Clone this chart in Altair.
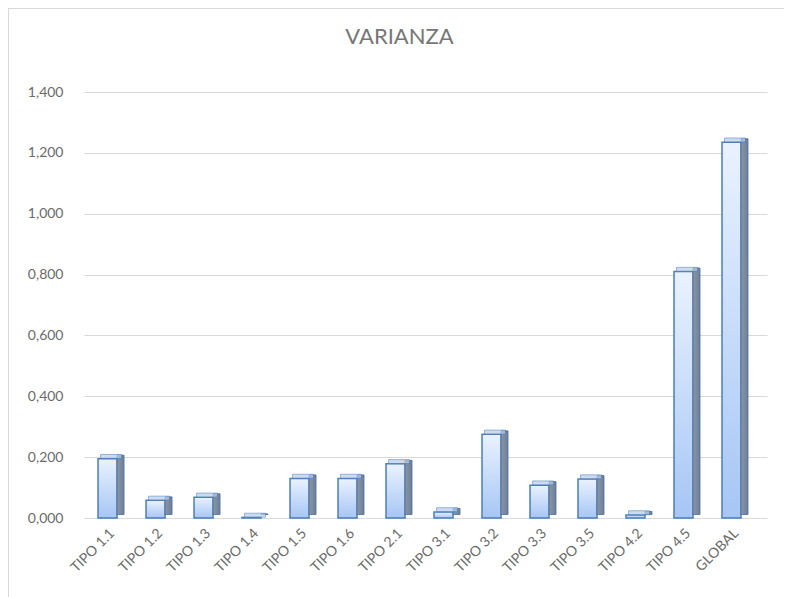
import altair as alt
import pandas as pd

categories = ["TIPO 1.1", "TIPO 1.2", "TIPO 1.3", "TIPO 1.4", "TIPO 1.5", "TIPO 1.6", "TIPO 2.1",
              "TIPO 3.1", "TIPO 3.2", "TIPO 3.3", "TIPO 3.5", "TIPO 4.2", "TIPO 4.5", "GLOBAL"]
values = [0.195, 0.058, 0.068, 0.002, 0.130, 0.130, 0.178,
          0.020, 0.275, 0.108, 0.128, 0.010, 0.810, 1.235]
y_ticks = [0.0, 0.2, 0.4, 0.6, 0.8, 1.0, 1.2, 1.4]

df = pd.DataFrame({"cat": categories, "val": values})

FONT = "Lato"
GRAY = "#6b6b6b"
W, H = 683, 426


def xs(shift):
    return alt.Scale(domain=categories, paddingInner=0.6, paddingOuter=0.415, align=0.35,
                     range=[shift, W + shift])


def ys(shift):
    return alt.Scale(domain=[0, 1.4], nice=False, range=[H - shift, -shift])


x_main = alt.X("cat:N", scale=xs(0), sort=None, title=None,
               axis=alt.Axis(labelAngle=-45, labelAlign="right", labelBaseline="top",
                             labelFont=FONT, labelFontSize=14, labelColor=GRAY,
                             domain=False, ticks=False, labelPadding=8))
y_main = alt.Y("val:Q", scale=ys(0), title=None,
               axis=alt.Axis(values=y_ticks, labelExpr="replace(format(datum.value, '.3f'), '.', ',')",
                             labelFont=FONT, labelFontSize=14, labelColor=GRAY,
                             domain=False, ticks=False, labelPadding=21,
                             grid=True, gridColor="#d9d9d9", gridWidth=1))

base = alt.Chart(df)

# side face (depth)
side = base.mark_bar(
    width=7, stroke="#4a6f9e", strokeWidth=0.8,
    color=alt.Gradient(gradient="linear", x1=0, x2=1, y1=0, y2=0,
                       stops=[alt.GradientStop(color="#8b95a6", offset=0),
                              alt.GradientStop(color="#6f7f99", offset=1)])
).encode(
    x=alt.X("cat:N", scale=xs(13), sort=None, axis=None),
    y=alt.Y("val:Q", scale=ys(3.5), axis=None),
    y2=alt.datum(0),
)

# top face
top = base.mark_tick(
    orient="horizontal", size=21, thickness=4, color="#b9cdea", stroke="#4a7ebb", strokeWidth=0.8
).encode(
    x=alt.X("cat:N", scale=xs(3.5), sort=None, axis=None),
    y=alt.Y("val:Q", scale=ys(2.2), axis=None),
)

# front face
front = base.mark_bar(
    width=19, stroke="#4a7ebb", strokeWidth=1.5,
    color=alt.Gradient(gradient="linear", x1=0, x2=0, y1=0, y2=1,
                       stops=[alt.GradientStop(color="#eaf2fe", offset=0),
                              alt.GradientStop(color="#a6c6f5", offset=1)])
).encode(x=x_main, y=y_main)

border = alt.Chart(df).mark_rule(color="#d9d9d9", strokeWidth=1.5, clip=False).encode(
    x=alt.value(-76), x2=alt.value(-76), y=alt.value(-84), y2=alt.value(520))
border_top = alt.Chart(df).mark_rule(color="#d9d9d9", strokeWidth=1.5, clip=False).encode(
    x=alt.value(-76), x2=alt.value(720), y=alt.value(-84), y2=alt.value(-84))

chart = alt.layer(front, side, top, border, border_top).resolve_scale(
    x="independent", y="independent"
).properties(
    width=W, height=H,
    autosize=alt.AutoSizeParams(type="none"),
    padding={"left": 76, "top": 84, "right": 17, "bottom": 80},
    title=alt.TitleParams("VARIANZA", font=FONT, fontSize=22, fontWeight="normal",
                          color="#767676", anchor="middle", dx=-26, offset=-59,
                          frame="group", baseline="alphabetic"),
).configure_view(stroke=None)

chart.save("out.html", embed_options={"renderer": "svg", "actions": False})
